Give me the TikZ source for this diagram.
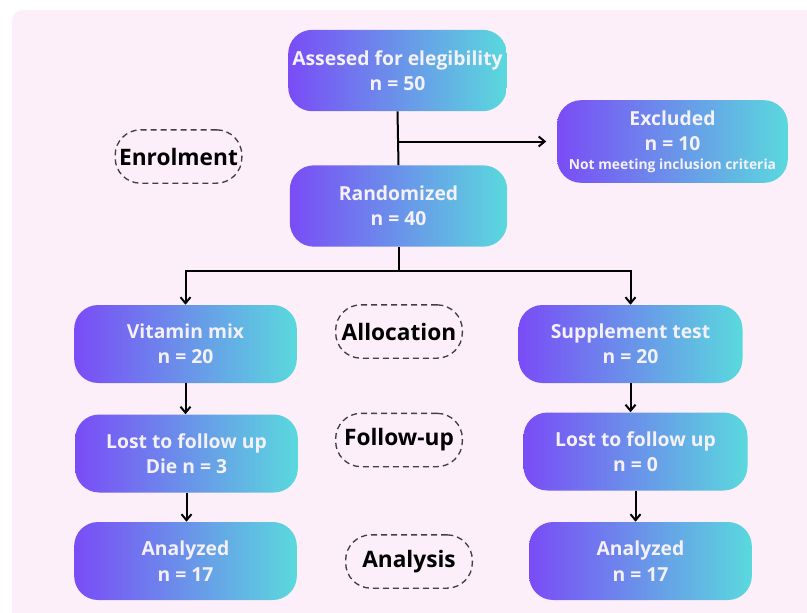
\documentclass[tikz,border=0pt]{standalone}
\usepackage{fontspec}
\setmainfont{Open Sans}
\usetikzlibrary{arrows.meta, positioning}

\definecolor{pagepink}{HTML}{FDEFFA}
\definecolor{boxviolet}{HTML}{7A4CF6}
\definecolor{boxcyan}{HTML}{5AD9DD}
\definecolor{boxtext}{HTML}{F4F1FB}

\begin{document}
\begin{tikzpicture}[x=0.75pt, y=-0.75pt,
    flowbox/.style={rounded corners=18pt, left color=boxviolet, right color=boxcyan,
        text=boxtext, align=center, inner sep=0pt,
        minimum width=167pt, minimum height=58.5pt,
        font=\bfseries\fontsize{14.5}{19}\selectfont},
    stagebox/.style={draw=black!75, dash pattern=on 4.5pt off 3pt, line width=1pt,
        rounded corners=19pt, minimum width=95pt, minimum height=40pt, inner sep=0pt,
        font=\bfseries\fontsize{17}{19}\selectfont},
    link/.style={line width=1.5pt, -{Straight Barb[length=4.5pt, width=7.5pt]}},
    trunk/.style={line width=1.5pt}]

    % Page and pink panel
    \useasboundingbox (0,0) rectangle (807,612);
    \clip (0,0) rectangle (807,612);
    \fill[white] (0,0) rectangle (807,612);
    \fill[pagepink, rounded corners=8pt] (12,10) rectangle (830,630);

    % Enrolment
    \node[flowbox, minimum width=164pt, minimum height=61pt] (assessed) at (397.5,70.5)
        {Assesed for elegibility\\n = 50};
    \node[flowbox, minimum width=173pt, minimum height=62pt] (excluded) at (672.5,141.5)
        {Excluded\\n = 10\\[-5pt]{\fontsize{10.4}{12}\selectfont Not meeting inclusion criteria}};
    \node[flowbox, minimum width=163pt, minimum height=61pt] (randomized) at (398.5,206)
        {Randomized\\n = 40};

    % Allocation
    \node[flowbox] (vitamin) at (185.5,344) {Vitamin mix\\n = 20};
    \node[flowbox, minimum width=168pt] (supplement) at (630.5,344) {Supplement test\\n = 20};

    % Follow-up
    \node[flowbox] (lostleft) at (186.5,453.5) {Lost to follow up\\Die n = 3};
    \node[flowbox, minimum width=168pt] (lostright) at (635.5,451.5) {Lost to follow up\\n = 0};

    % Analysis
    \node[flowbox] (analyzedleft) at (185.5,561) {Analyzed\\n = 17};
    \node[flowbox] (analyzedright) at (640.5,561) {Analyzed\\n = 17};

    % Stage labels
    \node[stagebox] (enrolment) at (178.5,156.5) {Enrolment};
    \node[stagebox] (allocation) at (399,331.5) {Allocation};
    \node[stagebox] (followup) at (399,440) {Follow-up};
    \node[stagebox] (analysis) at (409,561.5) {Analysis};

    % Connectors
    \coordinate (exclsplit) at (assessed.south |- excluded.west);
    \coordinate (randsplit) at (398.5,271);
    \draw[trunk] (assessed.south) -- (randomized.north);
    \draw[link, shorten >=8pt] (exclsplit) -- (excluded.west);
    \draw[trunk] (randomized.south) -- (randsplit);
    \draw[link] (randsplit) -| (vitamin.north);
    \draw[link] (randsplit) -| (supplement.north);
    \draw[link] (vitamin.south) -- (vitamin.south |- lostleft.north);
    \draw[link] (lostleft.south) -- (lostleft.south |- analyzedleft.north);
    \draw[link] (supplement.south) -- (supplement.south |- lostright.north);
    \draw[link] (lostright.south) -- (lostright.south |- analyzedright.north);
\end{tikzpicture}
\end{document}
